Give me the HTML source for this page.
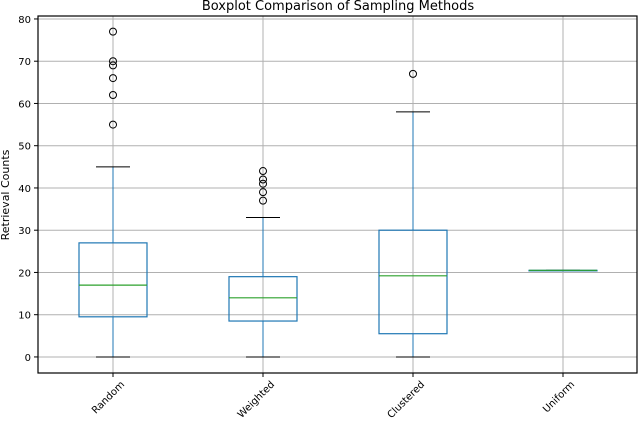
<!DOCTYPE html>
<html><head><meta charset="utf-8"><style>
html,body{margin:0;padding:0;background:#fff;}
svg{display:block;font-family:"DejaVu Sans","Liberation Sans",sans-serif;}
</style></head><body>
<svg id="chart" width="640" height="423" viewBox="0 0 640 423" xmlns="http://www.w3.org/2000/svg">
<text x="338" y="10" font-size="13" text-anchor="middle" fill="#000">Boxplot Comparison of Sampling Methods</text>
<text transform="translate(9,195) rotate(-90)" font-size="11" text-anchor="middle">Retrieval Counts</text>
<g id="plot"></g>
</svg>
<script>
const categories = ["Random","Weighted","Clustered","Uniform"];
const q1 = [9.5, 8.5, 5.5, 20.5];
const medians = [17, 14, 19.2, 20.5];
const q3 = [27, 19, 30, 20.5];
const whiskLow = [0, 0, 0, 20.5];
const whiskHigh = [45, 33, 58, 20.5];
const fliers = [[55,62,66,69,70,77],[37,39,41,42,44],[67],[]];
const yTicks = [0,10,20,30,40,50,60,70,80];

const L=38,R=637,T=16,B=373, yMin=-3.8, yMax=80.7;
const y=v=>B-(v-yMin)/(yMax-yMin)*(B-T);
const x=i=>113+i*150;
const NS="http://www.w3.org/2000/svg";
const g=document.getElementById('plot');
function mk(tag,attrs,parent){const e=document.createElementNS(NS,tag);for(const k in attrs)e.setAttribute(k,attrs[k]);(parent||g).appendChild(e);return e;}

yTicks.forEach(t=>{
  const l=mk('line',{x1:L,x2:R,y1:y(t),y2:y(t),stroke:'#b0b0b0','stroke-width':1});
  
  
  const tk=mk('line',{x1:L-4,x2:L,y1:y(t),y2:y(t),stroke:'#000'});
  
  
  const tx=mk('text',{x:L-7,y:y(t)+4,'font-size':10,'text-anchor':'end'});
  tx.textContent=t;
  
  
});
categories.forEach((c,i)=>{
  const l=mk('line',{x1:x(i),x2:x(i),y1:T,y2:B,stroke:'#b0b0b0','stroke-width':1});
  
  
});
categories.forEach((c,i)=>{
  const cx=x(i), hw=34, cw=17;
  const grp=mk('g',{});
  
  
  mk('line',{x1:cx,x2:cx,y1:y(q1[i]),y2:y(whiskLow[i]),stroke:'#1f77b4'},grp);
  mk('line',{x1:cx,x2:cx,y1:y(q3[i]),y2:y(whiskHigh[i]),stroke:'#1f77b4'},grp);
  mk('line',{x1:cx-cw,x2:cx+cw,y1:y(whiskLow[i]),y2:y(whiskLow[i]),stroke:'#000'},grp);
  mk('line',{x1:cx-cw,x2:cx+cw,y1:y(whiskHigh[i]),y2:y(whiskHigh[i]),stroke:'#000'},grp);
  mk('rect',{x:cx-hw,y:y(q3[i]),width:2*hw,height:Math.max(0.5,y(q1[i])-y(q3[i])),fill:'none',stroke:'#1f77b4','stroke-width':1.2},grp);
  mk('line',{x1:cx-hw,x2:cx+hw,y1:y(medians[i]),y2:y(medians[i]),stroke:'#2ca02c','stroke-width':1.2},grp);
  fliers[i].forEach(f=>{
    const p=mk('circle',{cx:cx,cy:y(f),r:3.5,fill:'none',stroke:'#000'},grp);
    
    
  });
  const tk=mk('line',{x1:cx,x2:cx,y1:B,y2:B+4,stroke:'#000'});
  
  
  const tx=mk('text',{transform:`translate(${cx+12},${B+12}) rotate(-45)`,'font-size':10,'text-anchor':'end'});
  tx.textContent=c;
  
  
});
const fr=mk('rect',{x:L,y:T,width:R-L,height:B-T,fill:'none',stroke:'#000','stroke-width':1.2});


</script>
</body></html>
